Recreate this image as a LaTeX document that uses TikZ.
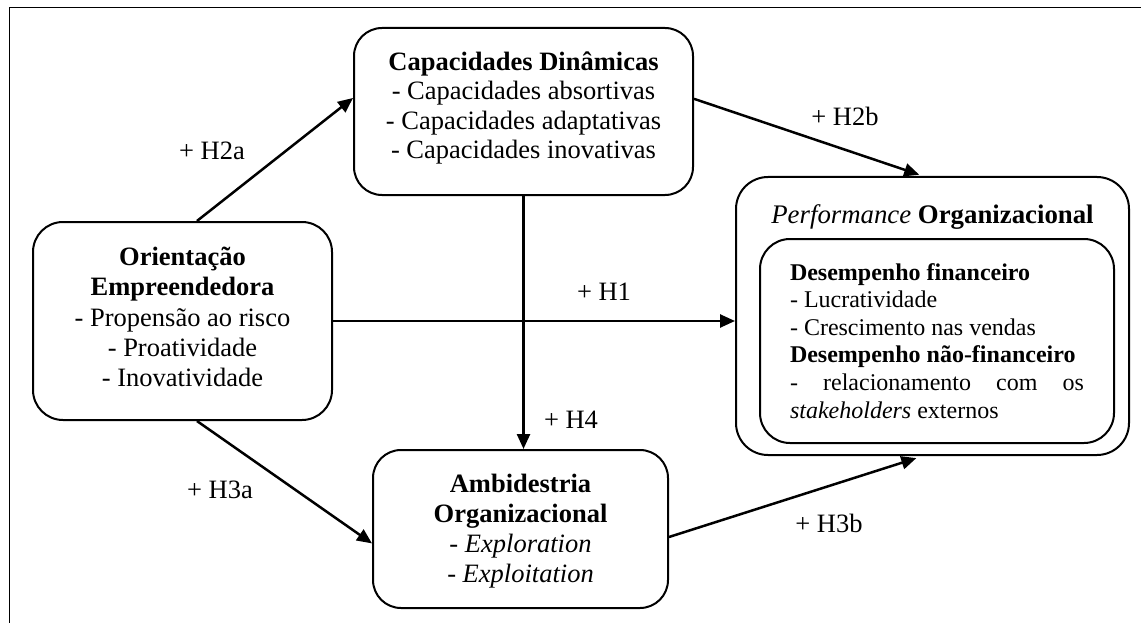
\documentclass[tikz,border=0pt]{standalone}
\usepackage{fontspec}
\setmainfont{Liberation Serif}
\usetikzlibrary{arrows.meta,calc}

\tikzset{
  box/.style={draw, line width=2pt, rounded corners=28pt, inner sep=0pt},
  link/.style={line width=2.5pt, -{Triangle[length=15pt,width=13pt]}},
  frame/.style={line width=1.3pt},
  hyp/.style={anchor=base, inner sep=0pt, font=\fontsize{26.5}{30}\selectfont},
  txt/.style={anchor=base, inner sep=0pt}
}

\begin{document}
\begin{tikzpicture}[x=1pt, y=-1pt]
  \useasboundingbox (0,0) rectangle (1141,623);

  % page frame (top and left rules)
  \draw[frame] (1141,7.5) -- (9.5,7.5) -- (9.5,623);

  % boxes
  \node[box, minimum width=339pt, minimum height=167pt] (cd) at (523.5,111.5) {};
  \node[box, minimum width=299pt, minimum height=198pt, rounded corners=30pt] (oe) at (182.5,321) {};
  \node[box, minimum width=295pt, minimum height=158pt] (am) at (520.5,529) {};
  \node[box, minimum width=393pt, minimum height=278pt, rounded corners=32pt] (po) at (932.5,316) {};
  \node[box, minimum width=354pt, minimum height=204pt, rounded corners=30pt] (pin) at (937,341) {};

  % box texts
  \node[txt] (cdtext) at (523.5,70.5) {\parbox[t]{336pt}{\centering\fontsize{26.5}{29.3}\selectfont
    \textbf{Capacidades Dinâmicas}\\
    - Capacidades absortivas\\
    - Capacidades adaptativas\\
    - Capacidades inovativas}};

  \node[txt] (oetext) at (182.5,265) {\parbox[t]{296pt}{\centering\fontsize{26.5}{30.5}\selectfont
    \textbf{Orientação}\\
    \textbf{Empreendedora}\\
    - Propensão ao risco\\
    - Proatividade\\
    - Inovatividade}};

  \node[txt] (amtext) at (520.5,492) {\parbox[t]{292pt}{\centering\fontsize{26.5}{30.3}\selectfont
    \textbf{Ambidestria}\\
    \textbf{Organizacional}\\
    - \textit{Exploration}\\
    - \textit{Exploitation}}};

  \node[txt] (potitle) at (932.5,223) {\fontsize{26.8}{30}\selectfont
    \textit{Performance} \textbf{Organizacional}};

  \node[txt] (pintext) at (937,280) {\parbox[t]{294pt}{\parindent=0pt\fontsize{24}{27.6}\selectfont
    \textbf{Desempenho financeiro}\\
    - Lucratividade\\
    - Crescimento nas vendas\\
    \textbf{Desempenho não-financeiro}\\
    -\hfill relacionamento\hfill com\hfill os\\
    \textit{stakeholders} externos}};

  % hypotheses
  \draw[link] ($(oe.north west)!0.548!(oe.north east)$) -- ($(cd.north west)!0.42!(cd.south west)$);
  \draw[link, shorten >=4pt] ($(cd.north east)!0.425!(cd.south east)$) -- ($(po.north west)!0.476!(po.north east)$);
  \draw[link] (oe.east) -- (oe.east -| po.west);
  \draw[link] (cd.south) -- (cd.south |- am.north);
  \draw[link] ($(oe.south west)!0.548!(oe.south east)$) -- ($(am.north west)!0.59!(am.south west)$);
  \draw[link, shorten >=7pt] ($(am.north east)!0.55!(am.south east)$) -- ($(po.south west)!0.476!(po.south east)$);

  % hypothesis labels
  \node[hyp] (h2a) at (212,160) {+ H2a};
  \node[hyp] (h2b) at (845,126) {+ H2b};
  \node[hyp] (h1)  at (604,300) {+ H1};
  \node[hyp] (h4)  at (571,428) {+ H4};
  \node[hyp] (h3a) at (220,498) {+ H3a};
  \node[hyp] (h3b) at (829,532) {+ H3b};
\end{tikzpicture}
\end{document}
